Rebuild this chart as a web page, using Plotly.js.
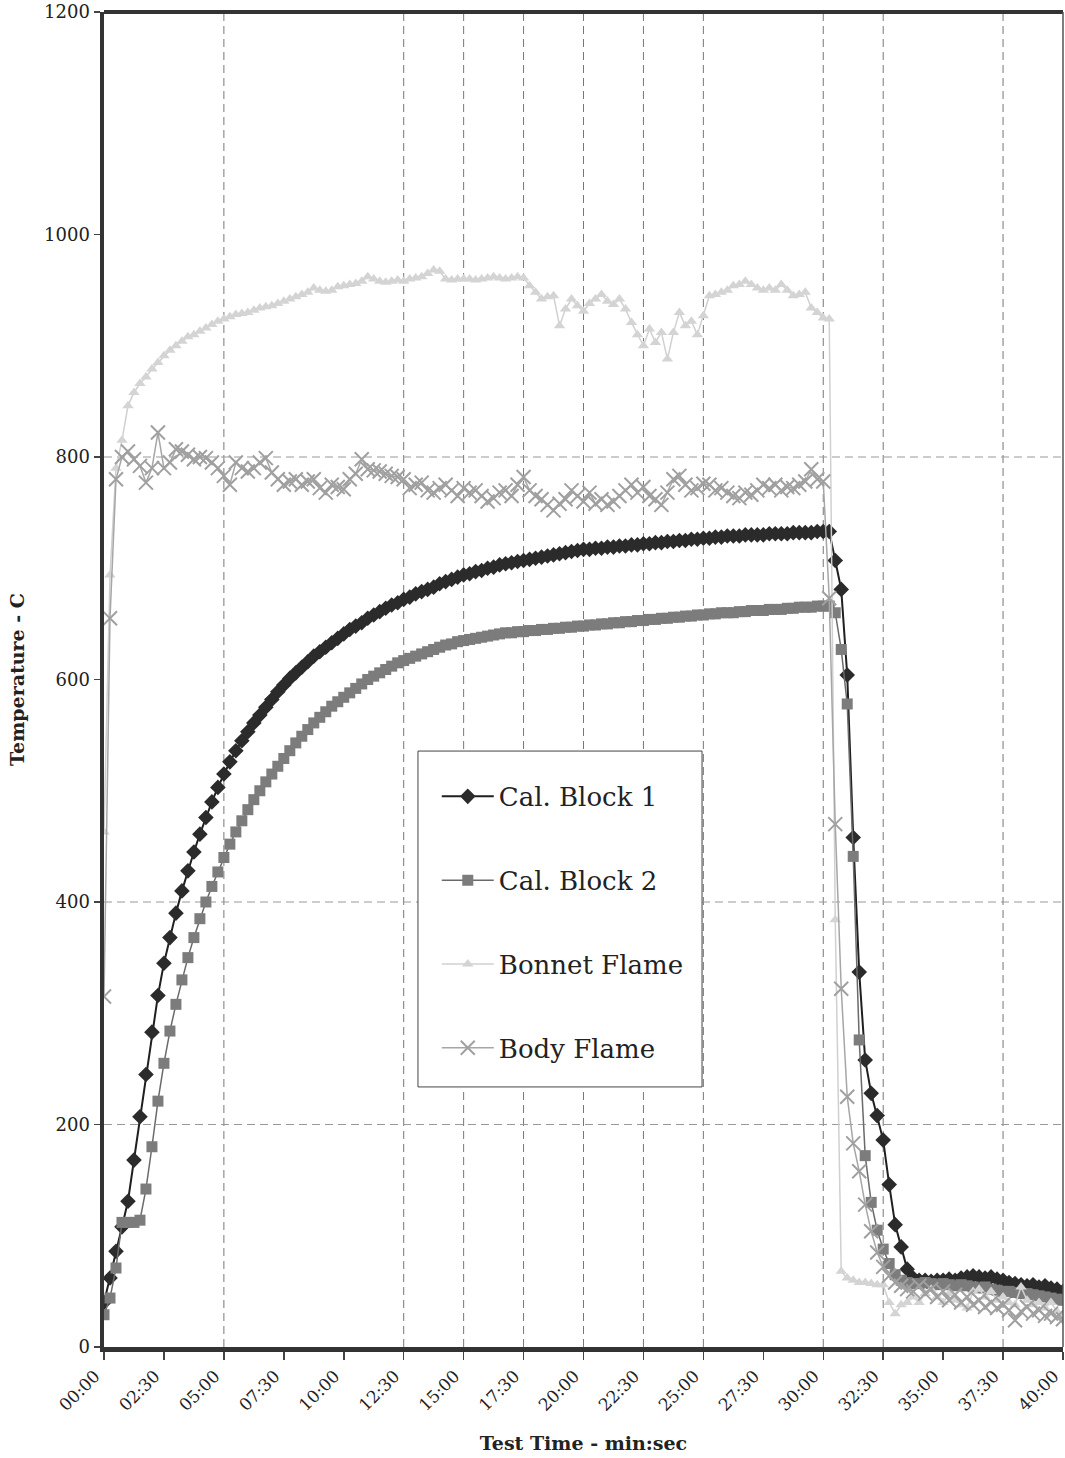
<!DOCTYPE html>
<html><head><meta charset="utf-8">
<script src="https://cdn.plot.ly/plotly-3.0.1.min.js"></script>
<style>html,body{margin:0;padding:0;background:#fff}#chart{width:1065px;height:1458px}</style>
</head><body><div id="chart"></div>
<script>
// readings every 15 s (0.25 min), 00:00 .. 40:00
const sampleStepMin = 0.25;

const calBlock1 = [
  40, 62, 86, 108, 131, 168, 207, 245, 283, 316, 345, 368,
  390, 410, 428, 445, 461, 476, 490, 503, 515,
  526, 536, 545, 553, 561, 568, 575, 582, 589, 595,
  601, 606, 611, 616, 621, 625, 629, 633, 637, 641,
  645, 648, 651, 655, 658, 661, 664, 667, 669, 672,
  674, 677, 679, 681, 683, 686, 688, 690, 692, 694,
  695, 697, 698, 700, 701, 703, 704, 705, 706, 707,
  708, 709, 710, 711, 712, 713, 714, 715, 716, 717,
  717, 718, 718, 719, 719, 720, 720, 721, 721, 722,
  722, 723, 723, 724, 724, 725, 725, 726, 726, 727,
  727, 728, 728, 729, 729, 729, 730, 730, 730, 730,
  731, 731, 731, 731, 732, 732, 732, 732, 733, 733,
  733, 707, 681, 604, 458, 337, 258, 228, 208, 186,
  146, 110, 90, 70, 62, 60, 60, 59, 60, 60,
  61, 60, 62, 63, 64, 63, 62, 63, 61, 60,
  58, 57, 56, 55, 56, 54, 55, 53, 52, 50
];

const calBlock2 = [
  29, 44, 71, 112, 112, 112, 114, 142, 180, 221, 255, 284, 308,
  330, 350, 368, 385, 400, 414, 427, 440,
  452, 463, 473, 483, 492, 500, 508, 515, 522, 529,
  536, 543, 549, 555, 561, 566, 571, 576, 580, 584,
  588, 592, 596, 600, 603, 606, 609, 612, 615, 617,
  619, 621, 623, 625, 627, 629, 631, 632, 634, 635,
  636, 637, 638, 639, 640, 641, 642, 642, 643, 643,
  644, 644, 645, 645, 646, 646, 647, 647, 648, 648,
  649, 649, 650, 650, 651, 651, 652, 652, 653, 653,
  654, 654, 655, 655, 656, 656, 657, 657, 658, 658,
  659, 659, 660, 660, 660, 661, 661, 662, 662, 662,
  663, 663, 663, 664, 664, 665, 665, 665, 666, 666,
  666, 660, 627, 578, 441, 276, 172, 130, 105, 88,
  75, 65, 60, 58, 57, 57, 58, 57, 56, 57,
  56, 55, 56, 55, 54, 53, 54, 52, 51, 50,
  50, 49, 48, 48, 47, 46, 45, 44, 43, 42
];

const bonnetFlame = [
  463, 694, 790, 815, 846, 858, 866, 872, 879, 885, 891,
  896, 900, 904, 908, 910, 913, 916, 919, 922, 924,
  926, 928, 929, 930, 932, 934, 935, 936, 938, 940,
  942, 944, 946, 948, 952, 950, 949, 950, 953, 954,
  955, 956, 958, 962, 960, 958, 957, 958, 959, 958,
  960, 961, 962, 965, 968, 967, 960, 959, 960, 960,
  960, 959, 960, 961, 962, 961, 960, 961, 962, 961,
  954, 948, 942, 944, 945, 918, 933, 942, 936, 931,
  938, 942, 946, 940, 937, 942, 933, 921, 910, 900,
  915, 903, 912, 888, 912, 930, 918, 922, 910, 927,
  945, 946, 948, 950, 954, 955, 958, 955, 952, 950,
  952, 950, 955, 950, 945, 946, 948, 934, 930, 925,
  924, 384, 68, 62, 60, 58, 58, 57, 56, 56,
  40, 30, 38, 40, 45, 40, 48, 52, 45, 40,
  48, 42, 38, 35, 50, 52, 45, 50, 42, 45,
  40, 38, 54, 42, 38, 40, 35, 40, 32, 30
];

const bodyFlame = [
  315, 655, 780, 800, 805, 798, 792, 777, 790, 822, 790,
  795, 807, 805, 802, 798, 800, 799, 795, 790, 783,
  775, 795, 790, 787, 790, 795, 799, 786, 780, 775,
  778, 780, 775, 778, 780, 772, 768, 775, 773, 771,
  780, 785, 798, 789, 788, 787, 785, 783, 782, 780,
  772, 775, 777, 770, 768, 772, 775, 770, 765, 772,
  768, 770, 765, 760, 763, 768, 770, 765, 775, 782,
  770, 765, 762, 757, 752, 758, 762, 770, 765, 760,
  768, 758, 762, 757, 760, 765, 770, 775, 768, 773,
  765, 762, 757, 768, 780, 783, 775, 770, 772, 776,
  775, 770, 772, 768, 765, 763, 768, 766, 770, 775,
  772, 775, 770, 773, 772, 775, 778, 789, 780, 778,
  673, 470, 322, 225, 183, 158, 128, 104, 85, 72,
  64, 58, 55, 52, 50, 55, 48, 52, 45, 50,
  42, 47, 40, 45, 38, 42, 36, 40, 35, 38,
  33, 24, 32, 36, 30, 33, 28, 30, 27, 25
];

const seriesNames = ["Cal. Block 1", "Cal. Block 2", "Bonnet Flame", "Body Flame"];
const tickVals = [0, 2.5, 5, 7.5, 10, 12.5, 15, 17.5, 20, 22.5, 25, 27.5, 30, 32.5, 35, 37.5, 40];
const tickText = ["00:00", "02:30", "05:00", "07:30", "10:00", "12:30", "15:00", "17:30", "20:00",
                  "22:30", "25:00", "27:30", "30:00", "32:30", "35:00", "37:30", "40:00"];
const gridX = [5, 12.5, 15, 17.5, 20, 22.5, 25, 30, 32.5, 37.5];
const gridY = [200, 400, 800];
const yTicks = [0, 200, 400, 600, 800, 1000, 1200];

const times = calBlock1.map((_, i) => i * sampleStepMin);
const FONT = "DejaVu Serif";

const traces = [
  {x: times, y: calBlock1, name: seriesNames[0], legendgroup: "a", mode: "lines+markers",
   line: {color: "#1f1f1f", width: 2}, marker: {symbol: "diamond", size: 12, color: "#2b2b2b"}},
  {x: times, y: calBlock2, name: seriesNames[1], legendgroup: "b", mode: "lines+markers",
   line: {color: "#6a6a6a", width: 1.5}, marker: {symbol: "square", size: 11, color: "#7c7c7c"}},
  {x: times, y: bonnetFlame, name: seriesNames[2], legendgroup: "c", mode: "lines+markers",
   line: {color: "#d0d0d0", width: 1.5}, marker: {symbol: "triangle-up", size: 10, color: "#d4d4d4"}},
  {x: times, y: bodyFlame, name: seriesNames[3], legendgroup: "d", mode: "lines+markers",
   line: {color: "#a6a6a6", width: 1.5}, marker: {symbol: "x-thin", size: 14, line: {color: "#a0a0a0", width: 2}}}
];

const shapes = [];
gridX.forEach(v => shapes.push({type: "line", xref: "x", yref: "paper", x0: v, x1: v, y0: 0, y1: 1,
  layer: "below", line: {color: "#777", width: 1, dash: "8px,5px"}}));
gridY.forEach(v => shapes.push({type: "line", xref: "paper", yref: "y", x0: 0, x1: 1, y0: v, y1: v,
  layer: "below", line: {color: "#999", width: 1, dash: "8px,5px"}}));
// frame top & right
shapes.push({type: "line", xref: "paper", yref: "paper", x0: 0, x1: 1, y0: 1, y1: 1, layer: "above",
  line: {color: "#333", width: 4}});
shapes.push({type: "line", xref: "paper", yref: "paper", x0: 1, x1: 1, y0: 0, y1: 1, layer: "above",
  line: {color: "#555", width: 1.5}});
// legend box
shapes.push({type: "rect", xref: "paper", yref: "paper", x0: 0.3274, x1: 0.6236, y0: 0.1948, y1: 0.4464,
  layer: "above", fillcolor: "#ffffff", line: {color: "#444", width: 1}});

const layout = {
  width: 1065, height: 1458,
  margin: {l: 104, r: 2, t: 12, b: 111},
  paper_bgcolor: "#fff", plot_bgcolor: "#fff",
  font: {family: FONT, color: "#222"},
  showlegend: true,
  legend: {x: 0.347, y: 0.43, xanchor: "left", yanchor: "top", bgcolor: "rgba(0,0,0,0)",
    borderwidth: 0, font: {family: FONT, size: 26, color: "#222"}, tracegroupgap: 47,
    traceorder: "grouped", itemwidth: 52},
  xaxis: {range: [-0.0001, 40.0001], tickmode: "array", tickvals: tickVals, ticktext: tickText, tickangle: -45,
    showgrid: false, zeroline: false, showline: true, linecolor: "#333", linewidth: 4.5,
    ticks: "outside", ticklen: 8, tickwidth: 1.5, tickcolor: "#444", ticklabeloverflow: "allow",
    ticklabelshift: -9,
    tickfont: {family: FONT, size: 17, color: "#222"},
    title: {text: "Test Time - min:sec", font: {family: FONT, size: 19, weight: "bold", color: "#222"}, standoff: 24}},
  yaxis: {range: [0, 1200], tickmode: "array", tickvals: yTicks,
    showgrid: false, zeroline: false, showline: true, linecolor: "#333", linewidth: 4.5,
    ticks: "outside", ticklen: 6, tickwidth: 1.5, tickcolor: "#444",
    tickfont: {family: FONT, size: 18, color: "#222"},
    title: {text: "Temperature - C", font: {family: FONT, size: 19, weight: "bold", color: "#222"}, standoff: 16}},
  shapes: shapes
};

Plotly.newPlot("chart", traces, layout, {displayModeBar: false, staticPlot: true});
</script></body></html>
